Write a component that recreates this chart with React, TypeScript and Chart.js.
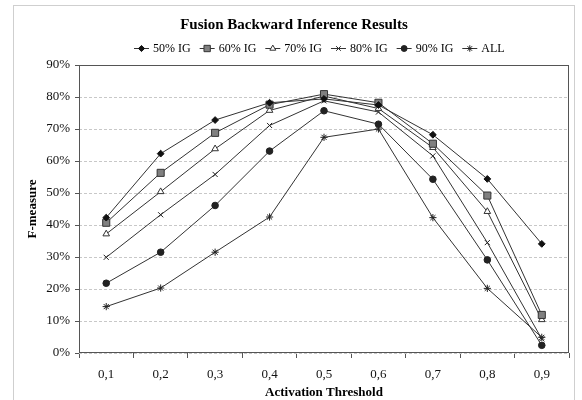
import React, { useEffect, useRef } from "react";
import { Chart, registerables } from "chart.js";
import { drawPoint } from "chart.js/helpers";

Chart.register(...registerables);

const categories = ["0,1", "0,2", "0,3", "0,4", "0,5", "0,6", "0,7", "0,8", "0,9"];
const seriesNames = ["50% IG", "60% IG", "70% IG", "80% IG", "90% IG", "ALL"];
const ig50 = [42.3, 62.3, 72.8, 78.2, 79.4, 77.5, 68.2, 54.4, 34.1];
const ig60 = [40.7, 56.3, 68.8, 77.6, 80.9, 78.2, 65.4, 49.2, 11.9];
const ig70 = [37.2, 50.4, 63.8, 75.8, 80.3, 76.4, 64.2, 44.2, 10.4];
const ig80 = [29.9, 43.2, 55.8, 71.1, 78.8, 75.3, 61.6, 34.5, 4.4];
const ig90 = [21.8, 31.5, 46.1, 63.1, 75.7, 71.5, 54.3, 29.1, 2.4];
const allIG = [14.5, 20.3, 31.5, 42.5, 67.4, 70.0, 42.3, 20.2, 4.9];
const seriesValues = [ig50, ig60, ig70, ig80, ig90, allIG];
const yTickValues = [0, 10, 20, 30, 40, 50, 60, 70, 80, 90];
const chartTitle = "Fusion Backward Inference Results";
const xTitle = "Activation Threshold";
const yTitle = "F-measure";

const markerStyles = [
  { pointStyle: "rectRot", radius: 3.4, bg: "#111", border: "#111" },
  { pointStyle: "rect", radius: 5, bg: "#808080", border: "#333" },
  { pointStyle: "triangle", radius: 3.8, bg: "#fff", border: "#333" },
  { pointStyle: "crossRot", radius: 3.6, bg: "#222", border: "#222" },
  { pointStyle: "circle", radius: 3.3, bg: "#222", border: "#222" },
  { pointStyle: "star", radius: 3.6, bg: "#222", border: "#222" },
];

const SERIF = "'Liberation Serif', 'Times New Roman', serif";

const decorPlugin = {
  id: "decor",
  beforeDraw(chart: any) {
    const ctx = chart.ctx;
    ctx.save();
    ctx.fillStyle = "#fff";
    ctx.fillRect(0, 0, chart.width, chart.height);
    ctx.strokeStyle = "#cfcfcf";
    ctx.lineWidth = 1;
    ctx.strokeRect(13.5, 5.5, 561, 420);
    ctx.restore();
  },
  beforeDatasetsDraw(chart: any) {
    const ctx = chart.ctx;
    const a = chart.chartArea;
    ctx.save();
    ctx.strokeStyle = "#555";
    ctx.lineWidth = 1;
    ctx.setLineDash([]);
    const l = Math.round(a.left) + 0.5;
    const t = Math.round(a.top) + 0.5;
    const r = Math.round(a.right) - 0.5;
    const b = Math.round(a.bottom) - 0.5;
    ctx.strokeRect(l, t, r - l, b - t);
    ctx.restore();
  },
  afterDraw(chart: any) {
    const ctx = chart.ctx;
    ctx.save();
    ctx.fillStyle = "#000";
    ctx.font = `bold 15px ${SERIF}`;
    ctx.textAlign = "center";
    ctx.textBaseline = "middle";
    ctx.fillText(chartTitle, 294, 25);
    ctx.font = `12px ${SERIF}`;
    ctx.textAlign = "left";
    let x = 134;
    const y = 48;
    chart.data.datasets.forEach((ds: any, i: number) => {
      const st = markerStyles[i];
      ctx.strokeStyle = "#333";
      ctx.lineWidth = 1;
      ctx.beginPath();
      ctx.moveTo(x, y + 0.5);
      ctx.lineTo(x + 15, y + 0.5);
      ctx.stroke();
      ctx.fillStyle = st.bg;
      ctx.strokeStyle = st.border;
      drawPoint(ctx, { pointStyle: st.pointStyle, radius: st.radius * 0.9, rotation: 0, borderWidth: 1 } as any, x + 7.5, y + 0.5);
      ctx.fillStyle = "#000";
      ctx.fillText(ds.label, x + 19, y + 1);
      x += 19 + ctx.measureText(ds.label).width + 9;
    });
    ctx.restore();
  },
};

export default function App() {
  const canvasRef = useRef<HTMLCanvasElement | null>(null);

  useEffect(() => {
    const canvas = canvasRef.current;
    if (!canvas) return;
    const chart = new Chart(canvas, {
      type: "line",
      data: {
        labels: categories,
        datasets: seriesNames.map((name, i) => ({
          label: name,
          data: seriesValues[i],
          borderColor: "#333",
          borderWidth: 1,
          backgroundColor: markerStyles[i].bg,
          pointStyle: markerStyles[i].pointStyle as any,
          pointRadius: markerStyles[i].radius,
          pointBackgroundColor: markerStyles[i].bg,
          pointBorderColor: markerStyles[i].border,
          pointBorderWidth: 1,
          tension: 0,
          fill: false,
        })),
      },
      options: {
        animation: false,
        responsive: false,
        devicePixelRatio: 1,
        layout: { padding: { top: 65, right: 13, left: 0, bottom: 0 } },
        plugins: {
          legend: { display: false },
          title: { display: false },
          tooltip: { enabled: false },
        },
        scales: {
          x: {
            type: "category",
            offset: true,
            afterFit: (scale: any) => {
              scale.height = 47;
            },
            grid: {
              offset: true,
              drawOnChartArea: false,
              drawTicks: true,
              tickLength: 5,
              tickColor: "#555",
            },
            border: { display: false },
            ticks: {
              color: "#111",
              font: { family: SERIF, size: 13 },
              padding: 9,
              maxRotation: 0,
              autoSkip: false,
            },
            title: {
              display: true,
              text: xTitle,
              color: "#000",
              font: { family: SERIF, size: 13, weight: "bold" },
              padding: { top: 0, bottom: 0 },
            },
          },
          y: {
            min: 0,
            max: 90,
            afterFit: (scale: any) => {
              scale.width = 79;
            },
            afterBuildTicks: (scale: any) => {
              scale.ticks = yTickValues.map((v) => ({ value: v }));
            },
            grid: {
              color: "#c8c8c8",
              lineWidth: 1,
              drawTicks: true,
              tickLength: 4,
              tickColor: "#555",
              tickBorderDash: [],
            },
            border: { display: false, dash: [3, 2] },
            ticks: {
              color: "#111",
              font: { family: SERIF, size: 13 },
              padding: 5,
              callback: (v: any) => `${v}%`,
            },
            title: {
              display: true,
              text: yTitle,
              color: "#000",
              font: { family: SERIF, size: 13, weight: "bold" },
              padding: { top: 25, bottom: 0 },
            },
          },
        },
      },
      plugins: [decorPlugin],
    });
    return () => chart.destroy();
  }, []);

  return (
    <div style={{ position: "absolute", left: 0, top: 0, width: 582, height: 400, background: "#fff" }}>
      <canvas ref={canvasRef} width={582} height={400} style={{ width: 582, height: 400, display: "block" }} />
    </div>
  );
}
